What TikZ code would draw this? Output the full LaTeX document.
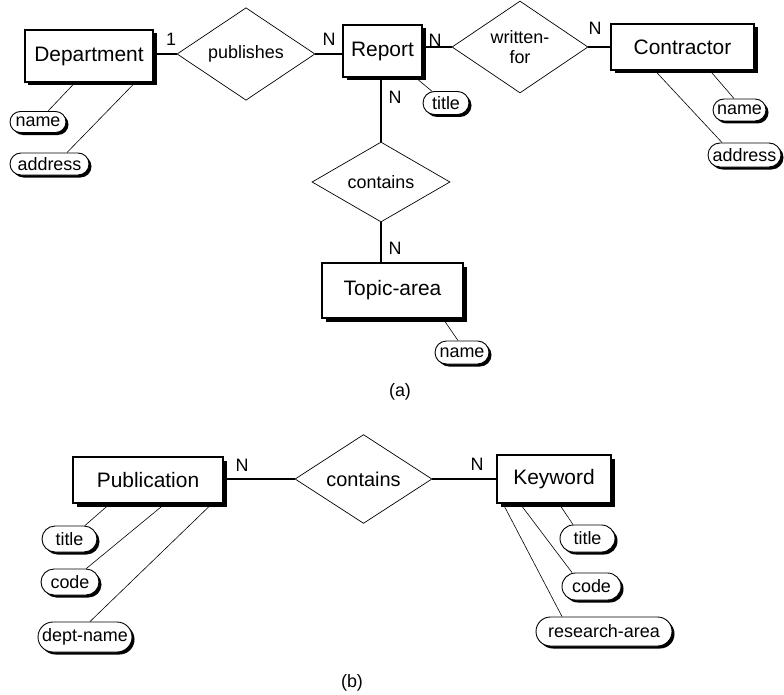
\documentclass[tikz,border=0pt]{standalone}
\usepackage{fontspec}
\setmainfont{Liberation Sans}
\usetikzlibrary{shapes.geometric,shapes.misc,shadows}
\begin{document}
\begin{tikzpicture}[x=1bp,y=-1bp,
 ent/.style={draw, line width=1.3bp, fill=white, inner sep=0pt, font=\fontsize{21}{24}\selectfont,
   drop shadow={shadow xshift=3.5bp, shadow yshift=-3.5bp, fill=black, opacity=1}},
 rel/.style={diamond, draw, line width=0.7bp, inner sep=0pt, font=\fontsize{18}{20}\selectfont, align=center},
 attr/.style={rounded rectangle, draw, line width=0.9bp, fill=white, inner sep=0pt, font=\fontsize{18}{20}\selectfont,
   drop shadow={shadow xshift=2.5bp, shadow yshift=-2.5bp, fill=black, opacity=1}},
 lbl/.style={font=\fontsize{18}{20}\selectfont, inner sep=0pt},
 conn/.style={line width=1.1bp},
 aline/.style={line width=0.6bp}]
\useasboundingbox (0,0) rectangle (784,695);
% ---------- (a) ----------
\node[ent, minimum width=128bp, minimum height=52bp] (dept) at (89,56) {Department};
\node[rel, minimum width=138bp, minimum height=79bp] (pub) at (246,54) {publishes};
\node[ent, minimum width=79bp, minimum height=52bp] (report) at (382.5,51) {Report};
\node[rel, minimum width=136bp, minimum height=80bp] (writ) at (520,47) {written-\\for};
\node[ent, minimum width=143bp, minimum height=46bp] (contr) at (682.5,47) {Contractor};
\node[rel, minimum width=138bp, minimum height=79bp] (conta) at (381,182) {contains};
\node[ent, minimum width=141bp, minimum height=55bp] (topic) at (392.5,290.5) {Topic-area};

\node[attr, minimum width=56bp, minimum height=21bp] (dname) at (38,122) {name};
\node[attr, minimum width=79bp, minimum height=22bp] (daddr) at (49.5,164) {address};
\node[attr, minimum width=46bp, minimum height=23bp] (rtitle) at (446,103) {title};
\node[attr, minimum width=53bp, minimum height=22bp] (cname) at (739.5,110) {name};
\node[attr, minimum width=73bp, minimum height=24bp] (caddr) at (744.5,155) {address};
\node[attr, minimum width=54bp, minimum height=23bp] (tname) at (462,352.5) {name};

\draw[conn] (dept.east |- pub.west) -- (pub.west);
\draw[conn] (pub.east) -- (pub.east -| report.west);
\draw[conn] (report.east |- writ.west) -- (writ.west);
\draw[conn] (writ.east) -- (writ.east -| contr.west);
\draw[conn] (conta.north |- report.south) -- (conta.north);
\draw[conn] (conta.south) -- (conta.south |- topic.north);

\draw[aline] ([xshift=-14bp]dept.south) -- ([xshift=10bp]dname.north);
\draw[aline] ([xshift=46bp]dept.south) -- ([xshift=17.5bp]daddr.north);
\draw[aline] ([xshift=-7bp]report.south east) -- (rtitle);
\draw[aline] ([xshift=27.5bp]contr.south) -- ([xshift=-5.5bp]cname.north);
\draw[aline] ([xshift=-27.5bp]contr.south) -- ([xshift=-22.5bp]caddr.north);
\draw[aline] ([xshift=50.5bp]topic.south) -- ([xshift=-4bp]tname.north);

\node[lbl] (l1) at (171,39) {1};
\node[lbl] (l2) at (329,39) {N};
\node[lbl] (l3) at (435,40) {N};
\node[lbl] (l4) at (595,28) {N};
\node[lbl] (l5) at (395,97) {N};
\node[lbl] (l6) at (395,248) {N};
\node[lbl] (capa) at (400,392) {(a)};

% ---------- (b) ----------
\node[ent, minimum width=150bp, minimum height=46bp] (pubn) at (148,480) {Publication};
\node[rel, minimum width=137bp, minimum height=80bp, font=\fontsize{20}{22}\selectfont] (cb) at (363.5,479) {contains};
\node[ent, minimum width=114bp, minimum height=48bp] (kw) at (554,479) {Keyword};

\node[attr, minimum width=55bp, minimum height=26bp] (ptitle) at (69.5,539) {title};
\node[attr, minimum width=58bp, minimum height=26bp] (pcode) at (70,582) {code};
\node[attr, minimum width=94bp, minimum height=30bp] (pdept) at (85,637) {dept-name};
\node[attr, minimum width=55bp, minimum height=27bp] (ktitle) at (587.5,538.5) {title};
\node[attr, minimum width=59bp, minimum height=27bp] (kcode) at (591.5,586.5) {code};
\node[attr, minimum width=136bp, minimum height=29bp] (kres) at (604,631.5) {research-area};

\draw[conn] (pubn.east |- cb.west) -- (cb.west);
\draw[conn] (cb.east) -- (cb.east -| kw.west);

\draw[aline] ([xshift=-38bp]pubn.south) -- (ptitle);
\draw[aline] ([xshift=17bp]pubn.south) -- (pcode);
\draw[aline] ([xshift=64bp]pubn.south) -- ([xshift=5bp]pdept.north);
\draw[aline] ([xshift=5bp]kw.south) -- ([xshift=-14.5bp]ktitle.north);
\draw[aline] ([xshift=-34bp]kw.south) -- ([xshift=-19.5bp]kcode.north);
\draw[aline] ([xshift=-51bp]kw.south) -- ([xshift=-42bp]kres.north);

\node[lbl] (l7) at (242,465) {N};
\node[lbl] (l8) at (477,464) {N};
\node[lbl] (capb) at (352,683) {(b)};
\end{tikzpicture}
\end{document}
